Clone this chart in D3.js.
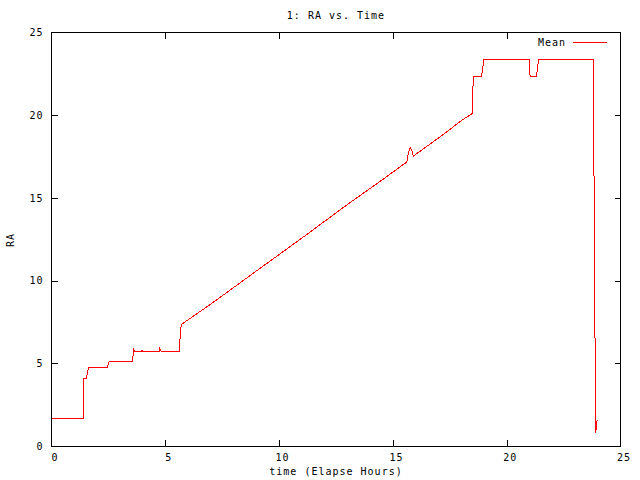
<!DOCTYPE html>
<html>
<head>
<meta charset="utf-8">
<script src="https://cdn.jsdelivr.net/npm/d3@7"></script>
<style>
  html, body { margin: 0; padding: 0; background: #fff; }
  svg { display: block; }
  text { font-family: "DejaVu Sans Mono", monospace; font-size: 10px; letter-spacing: 1px; fill: #000; }
</style>
</head>
<body>
<svg id="chart" width="640" height="480"></svg>
<script>
// ---- data ----
const titleText = "1: RA vs. Time";
const xLabelText = "time (Elapse Hours)";
const yLabelText = "RA";
const seriesName = "Mean";
const xTicks = [0, 5, 10, 15, 20, 25];
const yTicks = [0, 5, 10, 15, 20, 25];
const timeHours = [
  0, 1.39, 1.40, 1.42, 1.54, 1.57, 1.63, 2.46, 2.50, 2.55,
  3.55, 3.58, 3.60, 3.65, 3.96, 3.98, 4.01, 4.74, 4.76, 4.82,
  5.61, 5.63, 5.66, 5.70, 5.76, 7.0, 9.0, 11.0, 13.0, 14.54,
  15.61, 15.68, 15.76, 15.83, 15.90, 17.0, 18.03, 18.48, 18.50, 18.54,
  18.89, 18.92, 19.00, 21.00, 21.01, 21.03, 21.30, 21.33, 21.40, 23.82,
  23.83, 23.88, 23.90, 23.93, 23.97
];
const raMean = [
  1.67, 1.67, 2.84, 4.09, 4.09, 4.43, 4.75, 4.75, 5.00, 5.11,
  5.11, 5.40, 5.90, 5.74, 5.74, 5.80, 5.74, 5.74, 5.90, 5.74,
  5.74, 6.10, 6.80, 7.30, 7.40, 8.58, 10.58, 12.57, 14.60, 16.10,
  17.17, 17.70, 18.04, 17.90, 17.53, 18.62, 19.69, 20.10, 21.20, 22.34,
  22.34, 22.60, 23.35, 23.35, 22.60, 22.34, 22.34, 22.60, 23.35, 23.35,
  17.70, 6.50, 0.80, 1.00, 1.55
];

// ---- layout ----
const L = 51.5, R = 620.5, T = 32.5, B = 446;
const svg = d3.select("#chart");
const x = d3.scaleLinear().domain([0, 25]).range([L, R]);
const y = d3.scaleLinear().domain([0, 25]).range([B, T]);

// axes (ticks inward, mirrored)
const gx = svg.append("g").attr("transform", `translate(0,${B})`)
  .call(d3.axisBottom(x).tickValues(xTicks).tickSizeInner(-6).tickSizeOuter(0).tickPadding(8).tickFormat(d3.format("d")));
const gx2 = svg.append("g").attr("transform", `translate(0,${T})`)
  .call(d3.axisTop(x).tickValues(xTicks.slice(1, -1)).tickSizeInner(-6).tickSizeOuter(0).tickFormat(""));
const gy = svg.append("g").attr("transform", `translate(${L},0)`)
  .call(d3.axisLeft(y).tickValues(yTicks).tickSizeInner(-6).tickSizeOuter(0).tickPadding(8).tickFormat(d3.format("d")));
const gy2 = svg.append("g").attr("transform", `translate(${R},0)`)
  .call(d3.axisRight(y).tickValues(yTicks.slice(1, -1)).tickSizeInner(-6).tickSizeOuter(0).tickFormat(""));
[gx, gx2, gy, gy2].forEach(g => {
  g.select(".domain").remove();
  g.selectAll("line").attr("stroke", "#000").attr("shape-rendering", "crispEdges");
  g.selectAll("text").attr("font-family", null).attr("font-size", null).attr("fill", "#000");
});
gx.selectAll("text").attr("x", 3);
gx.selectAll(".tick").filter(d => d === 0 || d === 25).select("line").remove();
gy.selectAll(".tick").filter(d => d === 0 || d === 25).select("line").remove();

// frame
svg.append("rect").attr("x", L).attr("y", T).attr("width", R - L).attr("height", B - T)
  .attr("fill", "none").attr("stroke", "#000").attr("shape-rendering", "crispEdges");

// line
const pts = timeHours.map((t, i) => [t, raMean[i]]);
svg.append("path").datum(pts)
  .attr("fill", "none").attr("stroke", "#ff0000").attr("stroke-width", 1)
  .attr("shape-rendering", "crispEdges")
  .attr("d", d3.line().x(d => x(d[0])).y(d => y(d[1])));

// titles
svg.append("text").attr("x", 336).attr("y", 19).attr("text-anchor", "middle").text(titleText);
svg.append("text").attr("x", 336).attr("y", 475).attr("text-anchor", "middle").text(xLabelText);
svg.append("text").attr("transform", "translate(14,240) rotate(-90)").attr("text-anchor", "middle").text(yLabelText);

// legend
svg.append("text").attr("x", 566).attr("y", 46).attr("text-anchor", "end").text(seriesName);
svg.append("line").attr("x1", 573).attr("x2", 607).attr("y1", 42.5).attr("y2", 42.5)
  .attr("stroke", "#ff0000").attr("stroke-width", 1).attr("shape-rendering", "crispEdges");
</script>
</body>
</html>
